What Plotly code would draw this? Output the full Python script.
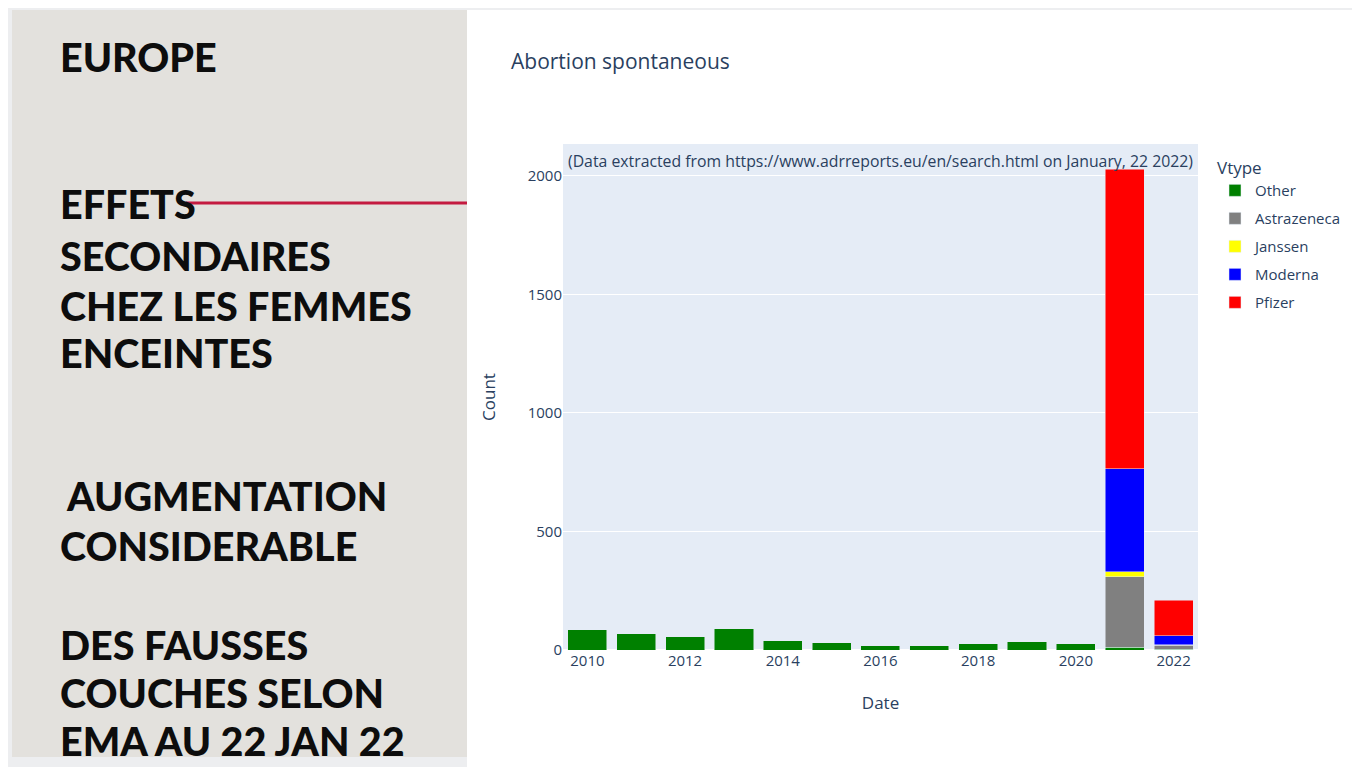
import plotly.graph_objects as go

# ---------------- data ----------------
years = ["2010", "2011", "2012", "2013", "2014", "2015", "2016",
         "2017", "2018", "2019", "2020", "2021", "2022"]
other = [85, 69, 59, 90, 41, 31, 21, 17, 27, 37, 27, 12, 4]
astrazeneca = [0, 0, 0, 0, 0, 0, 0, 0, 0, 0, 0, 296, 17]
janssen = [0, 0, 0, 0, 0, 0, 0, 0, 0, 0, 0, 22, 1]
moderna = [0, 0, 0, 0, 0, 0, 0, 0, 0, 0, 0, 435, 38]
pfizer = [0, 0, 0, 0, 0, 0, 0, 0, 0, 0, 0, 1262, 150]

series_names = ["Other", "Astrazeneca", "Janssen", "Moderna", "Pfizer"]
series_colors = ["green", "gray", "yellow", "blue", "red"]
series_values = [other, astrazeneca, janssen, moderna, pfizer]

slide_lines = [
    ("EUROPE", 58, 57),
    ("EFFETS", 58, 203),
    ("SECONDAIRES", 58, 255),
    ("CHEZ LES FEMMES", 58, 305),
    ("ENCEINTES", 58, 352),
    ("AUGMENTATION", 64, 495),
    ("CONSIDERABLE", 58, 545),
    ("DES FAUSSES", 58, 644),
    ("COUCHES SELON", 58, 692),
    ("EMA AU 22 JAN 22", 58, 740),
]

# ---------------- geometry helpers (screen pixel coords) ----------------
OFF = 8  # page body margin
W, H = 1360 - OFF, 767 - OFF
PL, PR, PT, PB = 563, 1198, 144, 650  # plot area in screen px
ML, MT = PL - OFF, PT - OFF
MR, MB = W - (PR - OFF), H - (PB - OFF)
PW, PH = W - ML - MR, H - MT - MB


def px_x(x):
    return (x - OFF - ML) / PW


def px_y(y):
    return 1 - (y - OFF - MT) / PH


dates = [y + "-01-01" for y in years]

fig = go.Figure()
for name, color, vals in zip(series_names, series_colors, series_values):
    fig.add_trace(go.Bar(
        x=dates, y=vals, name=name, legendgroup=name,
        marker=dict(color=color, line=dict(color="#E5ECF6", width=0.5)),
    ))

shapes = [
    # top and left light strips
    dict(type="rect", xref="paper", yref="paper", x0=px_x(0), x1=px_x(1360),
         y0=px_y(0), y1=px_y(10), fillcolor="#edeef0", line=dict(width=0), layer="below"),
    dict(type="rect", xref="paper", yref="paper", x0=px_x(0), x1=px_x(12),
         y0=px_y(0), y1=px_y(767), fillcolor="#edeef0", line=dict(width=0), layer="below"),
    # left grey panel
    dict(type="rect", xref="paper", yref="paper", x0=px_x(12), x1=px_x(467),
         y0=px_y(10), y1=px_y(757), fillcolor="#e3e1dd", line=dict(width=0), layer="below"),
    dict(type="rect", xref="paper", yref="paper", x0=px_x(12), x1=px_x(467),
         y0=px_y(757), y1=px_y(767), fillcolor="#edeef0", line=dict(width=0), layer="below"),
    # red accent line
    dict(type="line", xref="paper", yref="paper", x0=px_x(186), x1=px_x(467),
         y0=px_y(203), y1=px_y(203), line=dict(color="#c41a40", width=3), layer="above"),
]

annotations = []
for text, x, y in slide_lines:
    annotations.append(dict(
        text=text, xref="paper", yref="paper", x=px_x(x), y=px_y(y),
        xanchor="left", yanchor="middle", showarrow=False,
        font=dict(family="Lato", size=39.5, color="#0d0d0d", weight=900),
    ))

annotations.append(dict(
    text="(Data extracted from https://www.adrreports.eu/en/search.html on January, 22 2022)",
    xref="paper", yref="paper", x=px_x(566), y=px_y(161),
    xanchor="left", yanchor="middle", showarrow=False,
    font=dict(family="Open Sans", size=15.8, color="#2a3f5f"),
))

fig.update_layout(
    width=W, height=H,
    margin=dict(l=ML, r=MR, t=MT, b=MB, autoexpand=False),
    paper_bgcolor="white",
    plot_bgcolor="#E5ECF6",
    barmode="stack",
    bargap=0.2,
    font=dict(family="Open Sans", size=15, color="#2a3f5f"),
    title=dict(text="Abortion spontaneous", x=(511 - OFF) / W, xanchor="left",
               y=1 - (62 - OFF) / H, yanchor="middle", xref="container", yref="container",
               font=dict(size=21, color="#2a3f5f")),
    xaxis=dict(type="date", tickformat="%Y", dtick="M24", tick0="2010-01-01",
               showgrid=False, zeroline=False, automargin=False,
               title=dict(text="Date", standoff=28, font=dict(size=17))),
    yaxis=dict(gridcolor="white", zeroline=True, zerolinecolor="white",
               tickvals=[0, 500, 1000, 1500, 2000], automargin=False,
               title=dict(text="Count", standoff=27, font=dict(size=17))),
    legend=dict(x=px_x(1215), y=px_y(152), xanchor="left", yanchor="top",
                traceorder="grouped", tracegroupgap=5.5,
                title=dict(text="Vtype", font=dict(size=17)),
                font=dict(size=15)),
    shapes=shapes,
    annotations=annotations,
)

fig.write_html("out.html")
